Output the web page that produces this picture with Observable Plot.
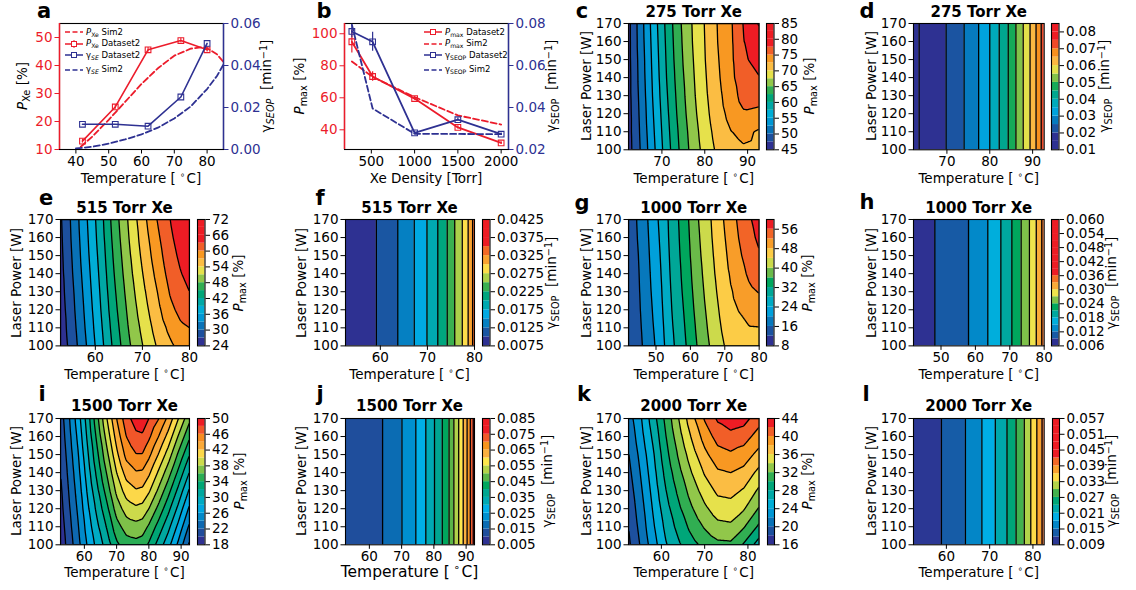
<!DOCTYPE html>
<html>
<head>
<meta charset="utf-8">
<script src="https://cdn.jsdelivr.net/npm/d3@7"></script>
<script src="https://cdn.jsdelivr.net/npm/@observablehq/plot@0.6"></script>
<style>
html,body{margin:0;padding:0;background:#fff;}
#fig{position:relative;width:1136px;height:590px;overflow:hidden;font-family:"DejaVu Sans",sans-serif;color:#000;background:#fff;}
.t{position:absolute;white-space:nowrap;line-height:1;font-size:13.5px;transform:translate(-50%,-50%);}
.t.r{transform:translate(-50%,-50%) rotate(-90deg);}
.ttl{font-weight:bold;font-size:15px;}
.let{font-weight:bold;font-size:21px;line-height:1;}
.let2{font-weight:bold;font-size:21px;line-height:0.75;}
sub{font-size:72%;vertical-align:-0.3em;line-height:0;}
sup{font-size:72%;vertical-align:0.45em;line-height:0;}
.deg{font-size:68%;vertical-align:0.55em;line-height:0;margin:0 1px 0 4px;}
.leg{position:absolute;height:12px;display:flex;align-items:center;font-size:8.5px;white-space:nowrap;line-height:1;}
.leg svg{margin-right:3px;overflow:visible;}
</style>
</head>
<body>
<div id="fig"></div>
<script>
// ---------------- data: panel a ----------------
const tempA = [42, 52, 62, 72, 80];
const pxeA = [13.0, 25.2, 45.6, 48.9, 45.6];
const pxeErrA = [0.7, 0.8, 0.8, 0.8, 0.8];
const gseA = [0.0120, 0.0120, 0.0111, 0.0250, 0.0505];
const tempSimPA = [41.5, 45, 50, 55, 60, 65, 70, 75, 78, 80, 83, 85];
const pxeSimA = [11.0, 14.6, 20.6, 27.0, 33.4, 39.0, 43.5, 46.0, 46.5, 46.2, 44.0, 41.3];
const tempSimGA = [40, 45, 50, 55, 60, 65, 70, 75, 80, 83, 85];
const gseSimA = [0.0005, 0.0013, 0.0028, 0.0048, 0.0072, 0.0104, 0.0148, 0.0205, 0.0288, 0.0350, 0.0405];
const xDomA = [35, 85], xTicksA = [40, 50, 60, 70, 80];
const yDomA = [10, 55], yTicksA = [10, 20, 30, 40, 50];
const y2DomA = [0, 0.06], y2TicksA = [0, 0.02, 0.04, 0.06];

// ---------------- data: panel b ----------------
const densB = [275, 515, 1000, 1500, 2000];
const pmaxB = [95.0, 73.3, 59.5, 41.5, 31.8];
const pmaxErrB = [7, 3, 1, 1, 0.8];
const gammaB = [0.0762, 0.0713, 0.0279, 0.0342, 0.0273];
const gammaErrB = [0.003, 0.0045, 0.0008, 0.0008, 0.0005];
const pmaxSimB = [82.7, 73.0, 60.4, 49.0, 43.3];
const gammaSimB = [0.0795, 0.0395, 0.0275, 0.0274, 0.0273];
const xDomB = [190, 2085], xTicksB = [500, 1000, 1500, 2000];
const yDomB = [27.7, 106.4], yTicksB = [40, 60, 80, 100];
const y2DomB = [0.02, 0.08], y2TicksB = [0.02, 0.04, 0.06, 0.08];

// ---------------- contour panels: common ----------------
const powers = [100, 110, 120, 130, 140, 150, 160, 170];
const powerTicks = [100, 110, 120, 130, 140, 150, 160, 170];

// c: 275 Torr, P_max grid (rows = powers, cols = tempC)
const tempC = [62.2, 65, 68, 71, 74, 77, 80, 83, 86, 89, 92.7];
const pmaxC = [
  [46.5, 50.1, 54.4, 58.7, 62.5, 65.8, 68.4, 70.5, 71.6, 72.2, 71.9],
  [46.6, 50.3, 54.7, 59.0, 62.8, 66.1, 68.8, 71.0, 72.4, 73.1, 72.2],
  [46.6, 50.5, 55.0, 59.3, 63.2, 66.5, 69.2, 71.5, 73.2, 74.7, 74.3],
  [46.7, 50.7, 55.3, 59.6, 63.5, 66.8, 69.5, 71.8, 73.8, 75.9, 76.1],
  [46.7, 50.9, 55.5, 59.9, 63.8, 67.0, 69.7, 72.1, 74.2, 76.7, 77.4],
  [46.8, 51.0, 55.7, 60.1, 64.1, 67.2, 69.9, 72.3, 74.4, 77.1, 78.4],
  [46.8, 51.2, 55.9, 60.3, 64.3, 67.4, 70.0, 72.5, 74.5, 77.4, 79.3],
  [46.8, 51.3, 56.1, 60.5, 64.5, 67.5, 70.1, 72.6, 74.6, 77.6, 80.2]
];
const levelsC = [45, 47.5, 50, 52.5, 55, 57.5, 60, 62.5, 65, 67.5, 70, 72.5, 75, 77.5, 80, 82.5, 85];
const ticksC = [45, 50, 55, 60, 65, 70, 75, 80, 85];

// d: 275 Torr, gamma stripes
const tRangeD = [62.2, 92.7];
const edgesD = [63.5, 69.8, 74.0, 77.4, 80.0, 82.2, 84.3, 86.1, 87.8, 89.4, 90.8, 92.0];
const levelsD = [0.010, 0.015, 0.020, 0.025, 0.030, 0.035, 0.040, 0.045, 0.050, 0.055, 0.060, 0.065, 0.070, 0.075, 0.080, 0.085];
const ticksD = [0.01, 0.02, 0.03, 0.04, 0.05, 0.06, 0.07, 0.08];

// e: 515 Torr, P_max grid
const tempE = [52.6, 55, 58, 61, 64, 67, 70, 73, 76, 78, 80];
const pmaxE = [
  [25.0, 28.2, 32.8, 37.7, 42.8, 47.4, 50.9, 54.1, 56.5, 57.9, 59.0],
  [25.3, 28.6, 33.3, 38.2, 43.4, 48.0, 51.7, 55.1, 57.9, 59.4, 60.0],
  [25.5, 29.0, 33.7, 38.7, 44.0, 48.6, 52.5, 56.0, 59.3, 60.8, 61.6],
  [25.8, 29.3, 34.1, 39.1, 44.5, 49.2, 53.2, 56.8, 60.4, 61.9, 63.0],
  [26.0, 29.7, 34.5, 39.5, 45.0, 49.8, 53.9, 57.7, 61.3, 62.8, 63.9],
  [26.2, 30.0, 34.9, 39.9, 45.5, 50.3, 54.6, 58.5, 62.0, 63.5, 64.6],
  [26.4, 30.3, 35.2, 40.3, 46.0, 50.8, 55.2, 59.2, 62.6, 64.1, 65.2],
  [26.6, 30.5, 35.5, 40.6, 46.4, 51.2, 55.8, 59.9, 63.1, 64.6, 65.8]
];
const levelsE = [24, 27, 30, 33, 36, 39, 42, 45, 48, 51, 54, 57, 60, 63, 66, 69, 72];
const ticksE = [24, 30, 36, 42, 48, 54, 60, 66, 72];

// f: 515 Torr, gamma stripes
const tRangeF = [52.6, 80];
const edgesF = [59.15, 63.7, 67.2, 69.9, 72.2, 74.2, 75.8, 77.4, 78.65, 79.6];
const levelsF = [0.0075, 0.0100, 0.0125, 0.0150, 0.0175, 0.0200, 0.0225, 0.0250, 0.0275, 0.0300, 0.0325, 0.0350, 0.0375, 0.0400, 0.0425];
const ticksF = [0.0075, 0.0125, 0.0175, 0.0225, 0.0275, 0.0325, 0.0375, 0.0425];

// g: 1000 Torr, P_max grid
const tempG = [42, 45, 48, 51, 54, 58, 62, 66, 70, 74, 77, 80];
const pmaxG = [
  [12.8, 14.9, 18.1, 21.5, 26.5, 31.0, 36.1, 40.5, 44.1, 46.0, 46.9, 47.2],
  [12.9, 15.2, 18.5, 22.0, 26.9, 31.5, 36.7, 41.2, 45.0, 46.9, 47.8, 47.9],
  [13.0, 15.5, 18.9, 22.5, 27.3, 32.0, 37.3, 41.8, 45.7, 48.1, 49.4, 50.0],
  [13.2, 15.7, 19.3, 22.9, 27.6, 32.5, 37.8, 42.4, 46.3, 49.3, 51.2, 52.2],
  [13.3, 15.9, 19.6, 23.3, 27.9, 32.9, 38.3, 42.9, 46.9, 50.3, 52.6, 54.0],
  [13.4, 16.1, 19.9, 23.7, 28.2, 33.3, 38.8, 43.3, 47.4, 51.2, 53.8, 55.6],
  [13.6, 16.4, 20.2, 24.1, 28.5, 33.6, 39.2, 43.7, 47.9, 52.0, 54.7, 56.8],
  [13.7, 16.6, 20.5, 24.5, 28.7, 33.9, 39.6, 44.0, 48.4, 52.6, 55.4, 57.8]
];
const levelsG = [8, 12, 16, 20, 24, 28, 32, 36, 40, 44, 48, 52, 56, 60];
const ticksG = [8, 16, 24, 32, 40, 48, 56];

// h: 1000 Torr, gamma stripes
const tRangeH = [42, 80];
const edgesH = [48.2, 58.0, 63.6, 67.4, 70.6, 73.3, 75.7, 77.7, 79.3];
const levelsH = [0.006, 0.009, 0.012, 0.015, 0.018, 0.021, 0.024, 0.027, 0.030, 0.033, 0.036, 0.039, 0.042, 0.045, 0.048, 0.051, 0.054, 0.057, 0.060];
const ticksH = [0.006, 0.012, 0.018, 0.024, 0.030, 0.036, 0.042, 0.048, 0.054, 0.060];

// i: 1500 Torr, P_max grid
const tempI = [52.6, 55, 58, 61, 64, 67, 70, 73, 76, 78, 80, 83, 86, 89, 92.6];
const pmaxI = [
  [18.6, 20.7, 23.3, 26.2, 28.7, 30.9, 33.6, 35.0, 35.3, 35.0, 33.7, 31.2, 28.7, 25.7, 21.6],
  [18.9, 21.1, 23.8, 26.9, 29.6, 32.2, 35.2, 36.9, 37.3, 37.0, 35.7, 33.2, 30.6, 27.6, 23.6],
  [19.3, 21.5, 24.3, 27.6, 30.6, 33.5, 36.9, 38.9, 39.6, 39.3, 38.0, 35.4, 32.6, 29.6, 25.6],
  [19.6, 21.9, 24.8, 28.3, 31.6, 34.9, 38.5, 40.9, 41.8, 41.6, 40.3, 37.6, 34.7, 31.6, 27.7],
  [20.0, 22.3, 25.3, 29.0, 32.6, 36.2, 40.0, 42.8, 43.8, 43.7, 42.4, 39.7, 36.9, 33.7, 29.9],
  [20.3, 22.7, 25.8, 29.7, 33.6, 37.5, 41.5, 44.6, 45.9, 45.9, 44.5, 41.9, 39.1, 35.8, 32.1],
  [20.7, 23.1, 26.4, 30.4, 34.6, 38.8, 42.8, 46.0, 47.5, 47.7, 46.4, 44.0, 41.3, 38.0, 34.3],
  [21.0, 23.5, 27.0, 31.0, 35.5, 40.0, 44.0, 47.2, 49.0, 49.2, 48.0, 46.1, 43.5, 40.2, 36.5]
];
const levelsI = [18, 20, 22, 24, 26, 28, 30, 32, 34, 36, 38, 40, 42, 44, 46, 48, 50];
const ticksI = [18, 22, 26, 30, 34, 38, 42, 46, 50];

// j: 1500 Torr, gamma stripes
const tRangeJ = [52.6, 92.6];
const edgesJ = [64.1, 70.1, 74.4, 77.5, 80.2, 82.6, 84.7, 86.2, 87.7, 89.1, 90.3, 91.3, 92.2];
const levelsJ = [0.005, 0.010, 0.015, 0.020, 0.025, 0.030, 0.035, 0.040, 0.045, 0.050, 0.055, 0.060, 0.065, 0.070, 0.075, 0.080, 0.085];
const ticksJ = [0.005, 0.015, 0.025, 0.035, 0.045, 0.055, 0.065, 0.075, 0.085];

// k: 2000 Torr, P_max grid
const tempK = [52.4, 55, 58, 61, 64, 67, 70, 73, 76, 79, 82.6];
const pmaxK = [
  [17.6, 20.0, 23.0, 25.8, 27.7, 29.3, 30.6, 31.5, 31.6, 29.8, 27.0],
  [18.0, 20.5, 23.6, 26.5, 28.7, 30.6, 32.2, 33.4, 33.6, 32.2, 29.6],
  [18.5, 20.9, 24.1, 27.2, 29.6, 31.8, 33.6, 35.0, 35.2, 34.2, 31.8],
  [18.9, 21.4, 24.6, 27.9, 30.5, 32.9, 34.9, 36.4, 36.6, 35.8, 33.6],
  [19.4, 21.9, 25.1, 28.6, 31.4, 34.0, 36.2, 37.7, 38.0, 37.4, 35.4],
  [19.9, 22.4, 25.6, 29.3, 32.3, 35.1, 37.5, 39.2, 39.7, 39.1, 37.3],
  [20.4, 23.0, 26.3, 29.9, 33.2, 36.2, 38.8, 40.8, 41.3, 40.9, 39.1],
  [21.0, 23.5, 27.0, 30.5, 34.0, 37.3, 40.2, 42.3, 43.3, 42.8, 40.8]
];
const levelsK = [16, 18, 20, 22, 24, 26, 28, 30, 32, 34, 36, 38, 40, 42, 44];
const ticksK = [16, 20, 24, 28, 32, 36, 40, 44];

// l: 2000 Torr, gamma stripes
const tRangeL = [52.4, 82.6];
const edgesL = [58.85, 64.4, 68.2, 71.3, 74.0, 76.1, 78.0, 79.5, 80.9, 82.1];
const levelsL = [0.009, 0.012, 0.015, 0.018, 0.021, 0.024, 0.027, 0.030, 0.033, 0.036, 0.039, 0.042, 0.045, 0.048, 0.051, 0.054, 0.057];
const ticksL = [0.009, 0.015, 0.021, 0.027, 0.033, 0.039, 0.045, 0.051, 0.057];

// colour palette (navy -> red)
const palette = ["#2e3192","#1f4e9c","#0b6cb3","#0090cf","#00afe6","#00a9b3","#00a691","#00a65d","#5bb549","#b3d34a","#fde74c","#fbb040","#f7941d","#f15a29","#ed1c24"];
const RED = "#ec1c2b", NAVY = "#2e3192";

// ---------------- helpers ----------------
const fig = document.getElementById("fig");
const pal = d3.piecewise(d3.interpolateRgb, palette);
const baseStyle = {fontFamily: "DejaVu Sans", fontSize: "13.5px", background: "transparent", overflow: "visible", color: "black"};

function place(svg, x, y) {
  svg.style.position = "absolute";
  svg.style.left = x + "px";
  svg.style.top = y + "px";
  fig.appendChild(svg);
}
function label(html, cx, cy, cls = "", extra = "") {
  const d = document.createElement("div");
  d.className = "t " + cls;
  d.innerHTML = html;
  d.style.left = cx + "px";
  d.style.top = cy + "px";
  if (extra) d.style.cssText += extra;
  fig.appendChild(d);
}
function colorOpts(levels, lo, hi) {
  return {type: "ordinal", domain: levels,
    range: levels.map(v => pal(Math.max(0, Math.min(1, (v - lo) / (hi - lo)))))};
}
function gridPoints(temps, grid) {
  const pts = [];
  grid.forEach((row, j) => row.forEach((v, i) => pts.push({T: temps[i], L: powers[j], P: v})));
  return pts;
}
const M = {l: 42, r: 6, t: 6, b: 26};
function mainPlot(frame, xDomain, xTicks, color, marks) {
  const [L, R, T, B] = frame;
  const svg = Plot.plot({
    width: R - L + M.l + M.r, height: B - T + M.t + M.b,
    marginLeft: M.l, marginRight: M.r, marginTop: M.t, marginBottom: M.b,
    x: {domain: xDomain}, y: {domain: [powers[0], powers[powers.length - 1]]},
    color, style: baseStyle,
    marks: [
      ...marks,
      Plot.frame({strokeWidth: 1.1}),
      Plot.axisX({ticks: xTicks, tickFormat: d3.format("d"), tickSize: 4.5, tickPadding: 2.5, label: null}),
      Plot.axisY({ticks: powerTicks, tickFormat: d3.format("d"), tickSize: 4.5, tickPadding: 2.5, label: null})
    ]
  });
  place(svg, L - M.l, T - M.t);
}
function colorbar(frame, levels, ticks, fmt, color) {
  const [L, R, T, B] = frame;
  const bands = levels.slice(0, -1).map((lo, i) => ({lo, hi: levels[i + 1]}));
  const svg = Plot.plot({
    width: R - L + 62, height: B - T + 12,
    marginLeft: 0, marginRight: 62, marginTop: 6, marginBottom: 6,
    y: {domain: [levels[0], levels[levels.length - 1]]},
    color, style: baseStyle,
    marks: [
      Plot.rect(bands, {y1: "lo", y2: "hi", fill: "lo"}),
      Plot.frame({strokeWidth: 1.1}),
      Plot.axisY({anchor: "right", ticks, tickFormat: d3.format(fmt), tickSize: 4.5, tickPadding: 2.5, label: null})
    ]
  });
  place(svg, L, T - 6);
}
function contourPanel(p) {
  const color = colorOpts(p.levels, p.cdom[0], p.cdom[1]);
  mainPlot(p.frame, [p.temps[0], p.temps[p.temps.length - 1]], p.xTicks, color, [
    Plot.contour(gridPoints(p.temps, p.grid), {
      x: "T", y: "L", fill: "P", thresholds: p.levels, interpolate: "barycentric",
      stroke: "black", strokeWidth: 1.3, pixelSize: 1, clip: true
    })
  ]);
  colorbar(p.cb, p.levels, p.ticks, p.fmt, color);
}
function stripePanel(p) {
  const color = colorOpts(p.levels, p.cdom[0], p.cdom[1]);
  const b = [p.range[0], ...p.edges, p.range[1]];
  const bands = b.slice(0, -1).map((x1, i) => ({x1, x2: b[i + 1], lv: p.levels[p.start + i]}));
  mainPlot(p.frame, p.range, p.xTicks, color, [
    Plot.rect(bands, {x1: "x1", x2: "x2", fill: "lv"}),
    Plot.ruleX(p.edges, {stroke: "black", strokeWidth: 1.3})
  ]);
  colorbar(p.cb, p.levels, p.ticks, p.fmt, color);
}
function dualPlots(frame, xDomain, xTicks, left, right) {
  const [L, R, T, B] = frame;
  const ml = 42, mr = 46, mt = 6, mb = 26;
  const common = {width: R - L + ml + mr, height: B - T + mt + mb,
    marginLeft: ml, marginRight: mr, marginTop: mt, marginBottom: mb, style: baseStyle};
  const s1 = Plot.plot({...common, x: {domain: xDomain}, y: {domain: left.domain},
    marks: [
      Plot.frame({strokeWidth: 1.1}),
      ...left.marks,
      Plot.ruleX([xDomain[0]], {stroke: RED, strokeWidth: 1.5}),
      Plot.axisX({ticks: xTicks, tickFormat: d3.format("d"), tickSize: 4.5, tickPadding: 2.5, label: null}),
      Plot.axisY({ticks: left.ticks, tickFormat: d3.format(left.fmt), color: RED, tickSize: 4.5, tickPadding: 2.5, label: null})
    ]});
  const s2 = Plot.plot({...common, x: {domain: xDomain, axis: null}, y: {domain: right.domain},
    marks: [
      ...right.marks,
      Plot.ruleX([xDomain[1]], {stroke: NAVY, strokeWidth: 1.5}),
      Plot.axisY({anchor: "right", ticks: right.ticks, tickFormat: d3.format(right.fmt), color: NAVY, tickSize: 4.5, tickPadding: 2.5, label: null})
    ]});
  place(s1, L - ml, T - mt);
  place(s2, L - ml, T - mt);
}
function legendItem(x, y, color, dashed, marker, err, html) {
  const d = document.createElement("div");
  d.className = "leg";
  d.style.left = x + "px";
  d.style.top = (y - 6) + "px";
  let s = `<svg width="18" height="12"><line x1="0" x2="18" y1="6" y2="6" stroke="${color}" stroke-width="1.5" ${dashed ? 'stroke-dasharray="5,2.5"' : ''}/>`;
  if (err) s += `<line x1="9" x2="9" y1="2" y2="10" stroke="${color}" stroke-width="1"/>`;
  if (marker) s += `<rect x="6.5" y="3.5" width="5" height="5" fill="white" stroke="${color}" stroke-width="1"/>`;
  s += `</svg>`;
  d.innerHTML = s + `<span>${html}</span>`;
  fig.appendChild(d);
}

// ---------------- panel a ----------------
const dataA = tempA.map((t, i) => ({t, p: pxeA[i], e: pxeErrA[i], g: gseA[i]}));
const simPA = tempSimPA.map((t, i) => ({t, p: pxeSimA[i]}));
const simGA = tempSimGA.map((t, i) => ({t, g: gseSimA[i]}));
dualPlots([59, 223, 23, 149], xDomA, xTicksA,
  {domain: yDomA, ticks: yTicksA, fmt: "d", marks: [
    Plot.line(simPA, {x: "t", y: "p", stroke: RED, strokeWidth: 1.8, strokeDasharray: "6,3", clip: true}),
    Plot.line(dataA, {x: "t", y: "p", stroke: RED, strokeWidth: 1.6}),
    Plot.ruleX(dataA, {x: "t", y1: d => d.p - d.e, y2: d => d.p + d.e, stroke: RED, strokeWidth: 1.1}),
    Plot.dot(dataA, {x: "t", y: "p", symbol: "square", r: 3.2, stroke: RED, fill: "none", strokeWidth: 1.1})
  ]},
  {domain: y2DomA, ticks: y2TicksA, fmt: ".2f", marks: [
    Plot.line(simGA, {x: "t", y: "g", stroke: NAVY, strokeWidth: 1.8, strokeDasharray: "6,3", clip: true}),
    Plot.line(dataA, {x: "t", y: "g", stroke: NAVY, strokeWidth: 1.6}),
    Plot.dot(dataA, {x: "t", y: "g", symbol: "square", r: 3.2, stroke: NAVY, fill: "none", strokeWidth: 1.1})
  ]});
legendItem(65, 32.3, RED, true, false, false, "<i>P</i><sub>Xe</sub> Sim2");
legendItem(65, 43.7, RED, false, true, true, "<i>P</i><sub>Xe</sub> Dataset2");
legendItem(65, 55.3, NAVY, false, true, false, "γ<sub><i>SE</i></sub> Dataset2");
legendItem(65, 69.7, NAVY, true, false, false, "γ<sub><i>SE</i></sub> Sim2");

// ---------------- panel b ----------------
const dataB = densB.map((x, i) => ({x, p: pmaxB[i], pe: pmaxErrB[i], g: gammaB[i], ge: gammaErrB[i], ps: pmaxSimB[i], gs: gammaSimB[i]}));
dualPlots([344, 508, 23, 149], xDomB, xTicksB,
  {domain: yDomB, ticks: yTicksB, fmt: "d", marks: [
    Plot.line(dataB, {x: "x", y: "ps", stroke: RED, strokeWidth: 1.8, strokeDasharray: "6,3"}),
    Plot.line(dataB, {x: "x", y: "p", stroke: RED, strokeWidth: 1.8}),
    Plot.ruleX(dataB, {x: "x", y1: d => d.p - d.pe, y2: d => d.p + d.pe, stroke: RED, strokeWidth: 1.2, clip: true}),
    Plot.dot(dataB, {x: "x", y: "p", symbol: "square", r: 3.2, stroke: RED, fill: "none", strokeWidth: 1.1})
  ]},
  {domain: y2DomB, ticks: y2TicksB, fmt: ".2f", marks: [
    Plot.line(dataB, {x: "x", y: "gs", stroke: NAVY, strokeWidth: 1.8, strokeDasharray: "6,3", clip: true}),
    Plot.line(dataB, {x: "x", y: "g", stroke: NAVY, strokeWidth: 1.8}),
    Plot.ruleX(dataB, {x: "x", y1: d => d.g - d.ge, y2: d => d.g + d.ge, stroke: NAVY, strokeWidth: 1.2, clip: true}),
    Plot.dot(dataB, {x: "x", y: "g", symbol: "square", r: 3.2, stroke: NAVY, fill: "none", strokeWidth: 1.1})
  ]});
legendItem(424, 32.3, RED, false, true, false, "<i>P</i><sub>max</sub> Dataset2");
legendItem(424, 43.7, RED, true, false, false, "<i>P</i><sub>max</sub> Sim2");
legendItem(424, 55.3, NAVY, false, true, false, "γ<sub>SEOP</sub> Dataset2");
legendItem(424, 69.7, NAVY, true, false, false, "γ<sub>SEOP</sub> Sim2");

// ---------------- contour panels ----------------
contourPanel({frame: [628.3, 759, 22.7, 149], cb: [766, 773.5, 22.7, 149], temps: tempC, grid: pmaxC, levels: levelsC, ticks: ticksC, fmt: "d", cdom: [45, 77.5], xTicks: [70, 80, 90]});
stripePanel({frame: [913.3, 1044, 22.7, 149], cb: [1051, 1058.5, 22.7, 149], range: tRangeD, edges: edgesD, levels: levelsD, start: 0, ticks: ticksD, fmt: ".2f", cdom: [0.015, 0.073], xTicks: [70, 80, 90]});
contourPanel({frame: [60, 189, 219.3, 345.7], cb: [197, 204.5, 219.3, 345.7], temps: tempE, grid: pmaxE, levels: levelsE, ticks: ticksE, fmt: "d", cdom: [24, 63], xTicks: [60, 70, 80]});
stripePanel({frame: [345, 474, 219.3, 345.7], cb: [482, 489.5, 219.3, 345.7], range: tRangeF, edges: edgesF, levels: levelsF, start: 0, ticks: ticksF, fmt: ".4f", cdom: [0.0075, 0.035], xTicks: [60, 70, 80]});
contourPanel({frame: [628.3, 759, 219.3, 345.7], cb: [766, 773.5, 219.3, 345.7], temps: tempG, grid: pmaxG, levels: levelsG, ticks: ticksG, fmt: "d", cdom: [8, 56], xTicks: [50, 60, 70, 80]});
stripePanel({frame: [913.3, 1044, 219.3, 345.7], cb: [1051, 1058.5, 219.3, 345.7], range: tRangeH, edges: edgesH, levels: levelsH, start: 0, ticks: ticksH, fmt: ".3f", cdom: [0.006, 0.036], xTicks: [50, 60, 70, 80]});
contourPanel({frame: [60, 189, 417.7, 544], cb: [197, 204.5, 417.7, 544], temps: tempI, grid: pmaxI, levels: levelsI, ticks: ticksI, fmt: "d", cdom: [18, 48], xTicks: [60, 70, 80, 90]});
stripePanel({frame: [345, 474, 417.7, 544], cb: [482, 489.5, 417.7, 544], range: tRangeJ, edges: edgesJ, levels: levelsJ, start: 1, ticks: ticksJ, fmt: ".3f", cdom: [0.005, 0.075], xTicks: [60, 70, 80, 90]});
contourPanel({frame: [628.3, 759, 417.7, 544], cb: [766.5, 773.5, 417.7, 544], temps: tempK, grid: pmaxK, levels: levelsK, ticks: ticksK, fmt: "d", cdom: [16, 42], xTicks: [60, 70, 80]});
stripePanel({frame: [913.3, 1044, 417.7, 544], cb: [1051.5, 1058.5, 417.7, 544], range: tRangeL, edges: edgesL, levels: levelsL, start: 0, ticks: ticksL, fmt: ".3f", cdom: [0.0085, 0.042], xTicks: [60, 70, 80]});

// ---------------- text labels ----------------
const TEMP = 'Temperature [<span class="deg">∘</span>C]';
const PMAX = '<i>P</i><sub>max</sub> [%]';
const GAM = 'γ<sub>SEOP</sub>&nbsp; [min<sup>−1</sup>]';
// panel letters
[["a", 44, 11], ["b", 324, 11], ["c", 582, 11], ["d", 867, 11]]
 .forEach(([s, x, y]) => label(s, x, y, "let"));
[["e", 46, 199], ["f", 320, 199], ["g", 582, 204], ["h", 867, 203],
 ["i", 42, 395], ["j", 320, 395], ["k", 584, 395], ["l", 866, 395]]
 .forEach(([s, x, y]) => label(s, x, y, "let2"));
// titles
[["275 Torr Xe", 693.7, 12], ["275 Torr Xe", 978.7, 12],
 ["515 Torr Xe", 124.5, 208], ["515 Torr Xe", 409.5, 208], ["1000 Torr Xe", 693.7, 208], ["1000 Torr Xe", 978.7, 208],
 ["1500 Torr Xe", 124.5, 406], ["1500 Torr Xe", 409.5, 406], ["2000 Torr Xe", 693.7, 406], ["2000 Torr Xe", 978.7, 406]]
 .forEach(([s, x, y]) => label(s, x, y, "ttl"));
// x labels
label(TEMP, 141, 179); label("Xe Density [Torr]", 426, 179); label(TEMP, 693.7, 179); label(TEMP, 978.7, 179);
label(TEMP, 124.5, 375); label(TEMP, 409.5, 375); label(TEMP, 693.7, 375); label(TEMP, 978.7, 375);
label(TEMP, 124.5, 573); label(TEMP, 409.5, 573, "", "font-size:15.5px;"); label(TEMP, 693.7, 573); label(TEMP, 978.7, 573);
// left y labels
label('<i>P</i><sub>Xe</sub> [%]', 23, 86, "r");
label(PMAX, 300, 86, "r");
[[587, 86], [872, 86], [17, 282.5], [302, 282.5], [587, 282.5], [872, 282.5], [17, 481], [302, 481], [587, 481], [872, 481]]
 .forEach(([x, y]) => label("Laser Power [W]", x, y, "r"));
// right labels
label('γ<sub><i>SEOP</i></sub>&nbsp; [min<sup>−1</sup>]', 267, 86, "r");
label(GAM, 552, 86, "r");
label(PMAX, 810, 86, "r"); label(GAM, 1105, 86, "r");
label(PMAX, 239, 282.5, "r"); label(GAM, 552, 282.5, "r"); label(PMAX, 808, 282.5, "r"); label(GAM, 1112, 282.5, "r");
label(PMAX, 240, 481, "r"); label(GAM, 548, 481, "r"); label(PMAX, 808, 481, "r"); label(GAM, 1112, 481, "r");
</script>
</body>
</html>
